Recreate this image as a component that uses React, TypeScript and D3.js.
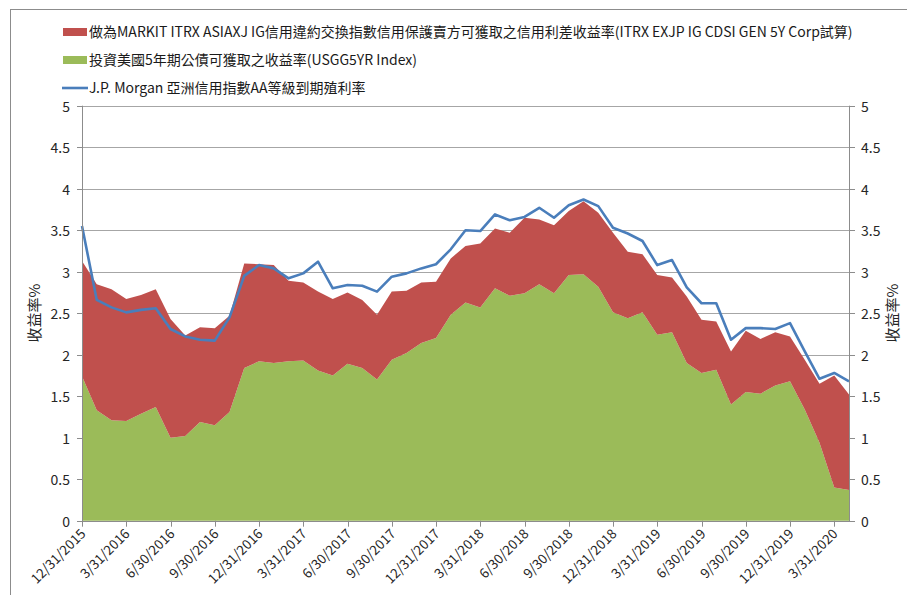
import React, { useEffect, useRef } from "react";
import * as d3 from "d3";

// month-end observations, 12/31/2015 .. 4/30/2020
const usgg5yr: number[] = [
  1.74, 1.33, 1.21, 1.2, 1.29, 1.37, 1.0, 1.02, 1.19, 1.15, 1.31, 1.84, 1.92,
  1.9, 1.92, 1.93, 1.81, 1.75, 1.89, 1.84, 1.7, 1.94, 2.02, 2.14, 2.2, 2.48,
  2.63, 2.57, 2.8, 2.71, 2.74, 2.85, 2.74, 2.96, 2.97, 2.82, 2.51, 2.44, 2.51,
  2.24, 2.27, 1.9, 1.78, 1.82, 1.4, 1.55, 1.53, 1.63, 1.68, 1.34, 0.94, 0.4, 0.37,
];

const cdsSpread: number[] = [
  1.39, 1.52, 1.58, 1.47, 1.43, 1.42, 1.43, 1.21, 1.14, 1.17, 1.16, 1.26, 1.17,
  1.18, 0.97, 0.94, 0.95, 0.92, 0.86, 0.82, 0.78, 0.82, 0.75, 0.73, 0.68, 0.68,
  0.68, 0.77, 0.72, 0.76, 0.91, 0.78, 0.82, 0.77, 0.88, 0.89, 0.96, 0.8, 0.7,
  0.72, 0.66, 0.8, 0.64, 0.58, 0.64, 0.74, 0.66, 0.64, 0.54, 0.6, 0.71, 1.35, 1.15,
];

const jpmAA: number[] = [
  3.55, 2.66, 2.57, 2.51, 2.54, 2.56, 2.31, 2.22, 2.18, 2.17, 2.45, 2.95, 3.08,
  3.04, 2.92, 2.98, 3.12, 2.8, 2.84, 2.83, 2.76, 2.94, 2.98, 3.04, 3.09, 3.27,
  3.5, 3.49, 3.69, 3.62, 3.66, 3.77, 3.65, 3.8, 3.87, 3.79, 3.53, 3.46, 3.37,
  3.08, 3.14, 2.81, 2.62, 2.62, 2.18, 2.32, 2.32, 2.31, 2.38, 2.04, 1.71, 1.78, 1.68,
];

// one label every 3 months
const quarterLabels: string[] = [
  "12/31/2015", "3/31/2016", "6/30/2016", "9/30/2016", "12/31/2016",
  "3/31/2017", "6/30/2017", "9/30/2017", "12/31/2017", "3/31/2018",
  "6/30/2018", "9/30/2018", "12/31/2018", "3/31/2019", "6/30/2019",
  "9/30/2019", "12/31/2019", "3/31/2020",
];

const yTicks = [0, 0.5, 1, 1.5, 2, 2.5, 3, 3.5, 4, 4.5, 5];

const legendNames = [
  "做為MARKIT ITRX ASIAXJ IG信用違約交換指數信用保護賣方可獲取之信用利差收益率(ITRX EXJP IG CDSI GEN 5Y Corp試算)",
  "投資美國5年期公債可獲取之收益率(USGG5YR Index)",
  "J.P. Morgan 亞洲信用指數AA等級到期殖利率",
];

const RED = "#C0504D";
const GREEN = "#9BBB59";
const BLUE = "#4A7EBB";
const FONT = "'Noto Sans CJK TC', 'Noto Sans', sans-serif";

function drawChart(ref: React.MutableRefObject<SVGSVGElement | null>) {
  const svg = d3.select(ref.current);
  svg.selectAll("*").remove();

  const left = 82;
  const right = 849;
  const top = 105.7;
  const bottom = 520.7;

  const x = d3.scaleLinear().domain([0, usgg5yr.length - 1]).range([left, right]);
  const y = d3.scaleLinear().domain([0, 5]).range([bottom, top]);

  // outer frame
  svg
    .append("rect")
    .attr("x", 10.5)
    .attr("y", 9.5)
    .attr("width", 930)
    .attr("height", 620)
    .attr("fill", "white")
    .attr("stroke", "#8c8c8c")
    .attr("stroke-width", 1);

  // gridlines
  svg
    .append("g")
    .selectAll("line")
    .data(yTicks.filter((d) => d > 0))
    .enter()
    .append("line")
    .attr("x1", left)
    .attr("x2", right)
    .attr("y1", (d) => Math.round(y(d)) + 0.5)
    .attr("y2", (d) => Math.round(y(d)) + 0.5)
    .attr("stroke", "#a6a6a6")
    .attr("stroke-width", 1);

  // stacked areas
  const rows = usgg5yr.map((g, i) => ({ i, green: g, red: cdsSpread[i] }));
  const stacked = d3.stack<{ i: number; green: number; red: number }>().keys(["green", "red"])(rows);
  const area = d3
    .area<d3.SeriesPoint<{ i: number; green: number; red: number }>>()
    .x((d) => x(d.data.i))
    .y0((d) => y(d[0]))
    .y1((d) => y(d[1]));

  svg
    .append("g")
    .selectAll("path")
    .data(stacked)
    .enter()
    .append("path")
    .attr("d", (s) => area(s) || "")
    .attr("fill", (s) => (s.key === "green" ? GREEN : RED));

  // JP Morgan line
  const line = d3
    .line<number>()
    .x((_, i) => x(i))
    .y((d) => y(d));
  svg
    .append("path")
    .datum(jpmAA)
    .attr("d", line)
    .attr("fill", "none")
    .attr("stroke", BLUE)
    .attr("stroke-width", 2.6)
    .attr("stroke-linejoin", "round");

  // axes lines
  const axisColor = "#8c8c8c";
  svg.append("line").attr("x1", left + 0.5).attr("x2", left + 0.5).attr("y1", top).attr("y2", bottom + 0.5).attr("stroke", axisColor);
  svg.append("line").attr("x1", right + 0.5).attr("x2", right + 0.5).attr("y1", top).attr("y2", bottom + 0.5).attr("stroke", axisColor);
  svg.append("line").attr("x1", left).attr("x2", right + 1).attr("y1", Math.round(bottom) + 0.5).attr("y2", Math.round(bottom) + 0.5).attr("stroke", axisColor);

  // y ticks + labels, both sides
  yTicks.forEach((t) => {
    const yy = Math.round(y(t)) + 0.5;
    svg.append("line").attr("x1", left - 5).attr("x2", left).attr("y1", yy).attr("y2", yy).attr("stroke", axisColor);
    svg.append("line").attr("x1", right).attr("x2", right + 6).attr("y1", yy).attr("y2", yy).attr("stroke", axisColor);
    svg
      .append("text")
      .attr("x", left - 12)
      .attr("y", yy + 5)
      .attr("text-anchor", "end")
      .style("font-family", FONT)
      .style("font-size", "14px")
      .attr("fill", "#262626")
      .text(String(t));
    svg
      .append("text")
      .attr("x", right + 12)
      .attr("y", yy + 5)
      .attr("text-anchor", "start")
      .style("font-family", FONT)
      .style("font-size", "14px")
      .attr("fill", "#262626")
      .text(String(t));
  });

  // x ticks + rotated date labels
  quarterLabels.forEach((lab, k) => {
    const xx = Math.round(x(k * 3)) + 0.5;
    svg.append("line").attr("x1", xx).attr("x2", xx).attr("y1", bottom).attr("y2", bottom + 6).attr("stroke", axisColor);
    svg
      .append("text")
      .attr("transform", `translate(${xx + 4},${bottom + 14}) rotate(-45)`)
      .attr("text-anchor", "end")
      .style("font-family", FONT)
      .style("font-size", "13.5px")
      .attr("fill", "#262626")
      .text(lab);
  });

  // y axis titles
  [40, 898].forEach((cx) => {
    svg
      .append("text")
      .attr("transform", `translate(${cx},313) rotate(-90)`)
      .attr("text-anchor", "middle")
      .style("font-family", FONT)
      .style("font-size", "15px")
      .attr("fill", "#262626")
      .text("收益率%");
  });

  // legend
  const legendY = [32, 60, 88];
  svg.append("rect").attr("x", 63).attr("y", 28).attr("width", 24).attr("height", 8).attr("fill", RED);
  svg.append("rect").attr("x", 63).attr("y", 56).attr("width", 24).attr("height", 8).attr("fill", GREEN);
  svg.append("line").attr("x1", 62).attr("x2", 88).attr("y1", 88).attr("y2", 88).attr("stroke", BLUE).attr("stroke-width", 2.6);
  legendNames.forEach((n, i) => {
    svg
      .append("text")
      .attr("x", 89)
      .attr("y", legendY[i] + 5)
      .style("font-family", FONT)
      .style("font-size", "14px")
      .attr("fill", "#1a1a1a")
      .text(n);
  });
}

const App = () => {
  const ref = useRef<SVGSVGElement | null>(null);
  useEffect(() => {
    drawChart(ref);
  }, []);

  return (
    <svg
      ref={ref}
      width={907}
      height={595}
      style={{ position: "absolute", left: 0, top: 0, background: "white" }}
    />
  );
};

export default App;
